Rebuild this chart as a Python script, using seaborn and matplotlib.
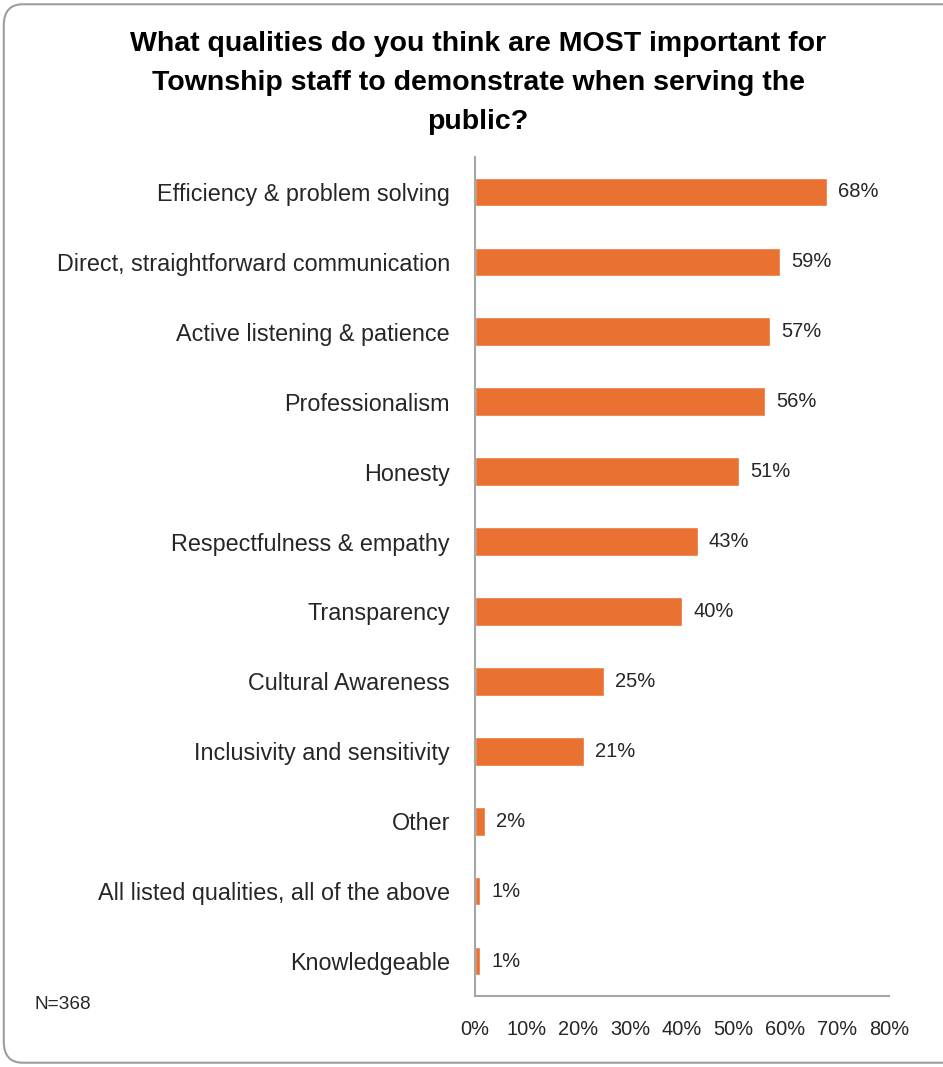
import numpy as np
import pandas as pd
import matplotlib.pyplot as plt
from matplotlib.patches import FancyBboxPatch
from matplotlib.ticker import FixedLocator, PercentFormatter
import seaborn as sns

qualities = [
    "Efficiency & problem solving",
    "Direct, straightforward communication",
    "Active listening & patience",
    "Professionalism",
    "Honesty",
    "Respectfulness & empathy",
    "Transparency",
    "Cultural Awareness",
    "Inclusivity and sensitivity",
    "Other",
    "All listed qualities, all of the above",
    "Knowledgeable",
]
shares = [68, 59, 57, 56, 51, 43, 40, 25, 21, 2, 1, 1]
x_ticks = [0, 10, 20, 30, 40, 50, 60, 70, 80]
n_label = "N=368"
title = ("What qualities do you think are MOST important for\n"
         "Township staff to demonstrate when serving the\npublic?")

df = pd.DataFrame({"quality": qualities, "share": shares})

sns.set_style("white")
plt.rcParams['font.family'] = ['Liberation Sans', 'DejaVu Sans']

bar_color = "#E97132"
axis_grey = "#A6A6A6"
text_col = "#262626"

fig = plt.figure(figsize=(9.43, 10.67), dpi=100)
ax = fig.add_axes([0.5037, 0.0665, 0.4390, 0.7864])

sns.barplot(data=df, x="share", y="quality", color=bar_color, width=0.41,
            saturation=1, ax=ax)

ax.set_xlim(0, 80)
ax.set_ylim(len(qualities) - 0.5, -0.5)
ax.xaxis.set_major_locator(FixedLocator(x_ticks))
ax.xaxis.set_major_formatter(PercentFormatter(decimals=0))
ax.set_xlabel("")
ax.set_ylabel("")

# category labels, with boundary ticks like the original
ax.tick_params(axis="y", which="major", length=0, pad=18, labelsize=16.8,
               labelcolor=text_col)
ax.yaxis.set_minor_locator(FixedLocator(np.arange(-0.5, len(qualities), 1)))
ax.tick_params(axis="y", which="minor", length=6, width=1.5, color=axis_grey)
ax.tick_params(axis="x", length=6, width=1.5, color=axis_grey, pad=11,
               labelsize=14.4, labelcolor=text_col)

for side in ["top", "right"]:
    ax.spines[side].set_visible(False)
for side in ["left", "bottom"]:
    ax.spines[side].set_color(axis_grey)
    ax.spines[side].set_linewidth(1.5)

for bar, val in zip(ax.patches, shares):
    ax.annotate(f"{val}%", (bar.get_width(), bar.get_y() + bar.get_height() / 2),
                xytext=(8, 0), textcoords="offset points", va="center",
                ha="left", fontsize=14.5, color=text_col)

fig.text(0.507, 0.9705, title, ha="center", va="top", fontsize=20.5,
         fontweight="bold", color="black", linespacing=1.63)
fig.text(0.037, 0.059, n_label, ha="left", va="center", fontsize=13.7,
         color=text_col)

border = FancyBboxPatch((0.004, 0.004), 1.02, 0.992, transform=fig.transFigure,
                        boxstyle="round,pad=0,rounding_size=0.02",
                        facecolor="none", edgecolor="#9E9E9E", linewidth=1.5,
                        clip_on=False)
fig.patches.append(border)

fig.savefig("out.png", dpi=100)
plt.close(fig)
